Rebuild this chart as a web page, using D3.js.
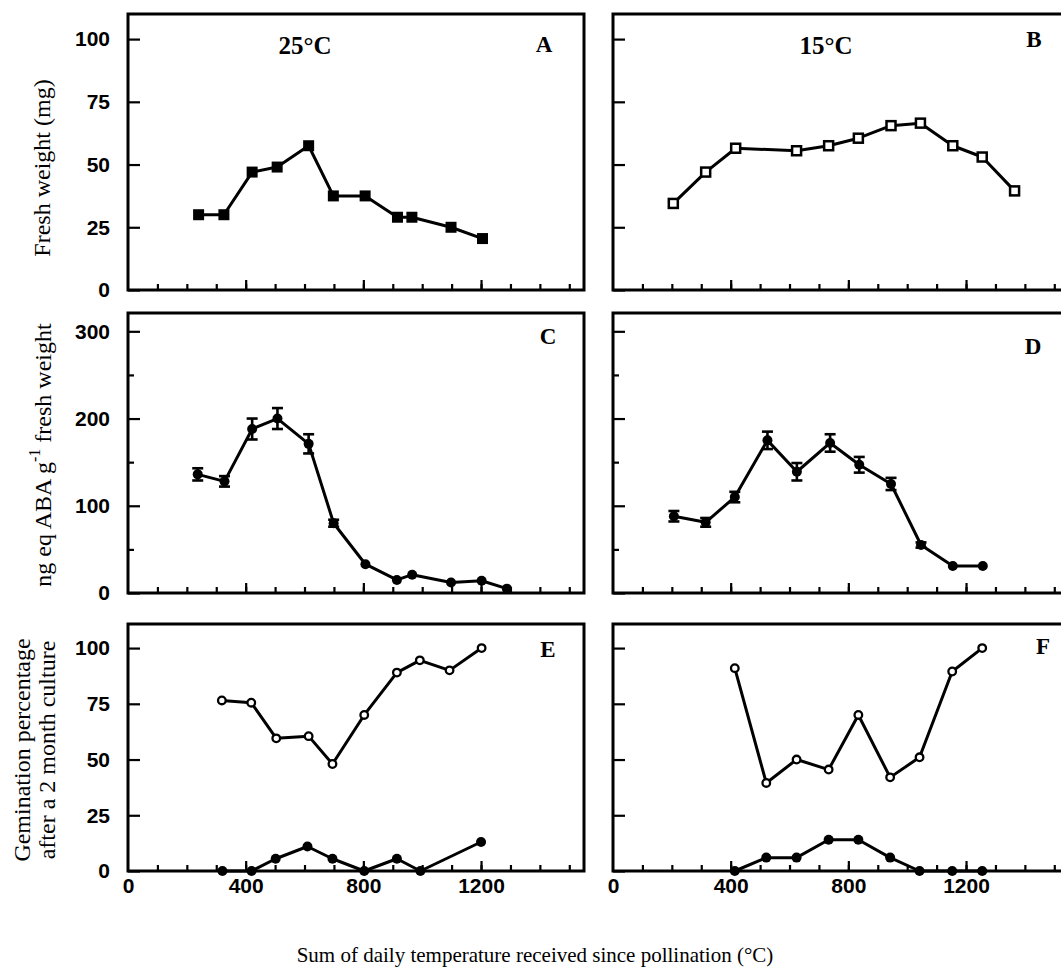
<!DOCTYPE html>
<html><head><meta charset="utf-8">
<script src="https://cdn.jsdelivr.net/npm/d3@7"></script>
<style>
body{margin:0;background:#fff;}
svg{display:block;}
</style></head><body>
<svg id="c" width="1061" height="978"></svg>
<script>
// ---------- data ----------
const xMinorTicks = [100,200,300,400,500,600,700,800,900,1000,1100,1200,1300,1400,1500];
const xMajorTicks = [400,800,1200];
const xTickLabels = [0,400,800,1200];

const fwTicks = [0,25,50,75,100];
const abaTicks = [0,100,200,300];
const abaMinorTicks = [50,150,250];
const germTicks = [0,25,50,75,100];

// A: 25°C fresh weight
const aX = [240, 326, 422, 507, 614, 698, 806, 916, 965, 1098, 1205];
const aY = [30, 30, 47, 49, 57.5, 37.5, 37.5, 29, 29, 25, 20.5];
// B: 15°C fresh weight
const bX = [205, 315, 417, 624, 733, 834, 945, 1045, 1155, 1255, 1365];
const bY = [34.5, 47, 56.5, 55.5, 57.5, 60.5, 65.5, 66.5, 57.5, 53, 39.5];
// C: 25°C ABA
const cX = [237, 328, 422, 508, 614, 699, 807, 914, 966, 1098, 1202, 1288];
const cY = [136, 128, 188, 200, 171, 80, 33, 15, 21, 12, 14, 5];
const cErr = [7, 6, 12, 12, 11, 4, 0, 0, 0, 0, 0, 0];
// D: 15°C ABA
const dX = [207, 315, 414, 525, 625, 738, 837, 945, 1047, 1155, 1257];
const dY = [88, 81, 110, 175, 139, 172, 147, 125, 55, 31, 31];
const dErr = [6, 5, 6, 10, 10, 10, 9, 7, 3, 0, 0];
// E: 25°C germination
const eOpenX = [319, 419, 504, 614, 695, 803, 914, 992, 1093, 1202];
const eOpenY = [76.5, 75.5, 59.5, 60.5, 48, 70, 89, 94.5, 90, 100];
const eFillX = [321, 420, 502, 610, 695, 803, 914, 994, 1200];
const eFillY = [0, 0, 5.5, 11, 5.5, 0, 5.5, 0, 13];
// F: 15°C germination
const fOpenX = [414, 521, 624, 733, 834, 942, 1042, 1153, 1255];
const fOpenY = [91, 39.5, 50, 45.5, 70, 42, 51, 89.5, 100];
const fFillX = [414, 521, 624, 733, 834, 942, 1042, 1153, 1255];
const fFillY = [0, 6, 6, 14, 14, 6, 0, 0, 0];

const zip = (xs, ys, es) => xs.map((x, i) => ({x, y: ys[i], e: es ? es[i] : 0}));

// ---------- layout ----------
const svg = d3.select("#c");
const cols = [{l: 128, r: 584}, {l: 613, r: 1069}];
const rows = [
  {t: 14, b: 290, max: 110},
  {t: 313, b: 593, max: 321},
  {t: 624, b: 871, max: 110.8}
];
const xDomain = [0, 1550];
const TICK_FONT = "'Liberation Sans', Arial, sans-serif";
const SERIF = "'Liberation Serif', 'Times New Roman', serif";

function makePanel(ci, ri, cfg) {
  const c = cols[ci], r = rows[ri];
  const x = d3.scaleLinear().domain(xDomain).range([c.l, c.r]);
  const y = d3.scaleLinear().domain([0, r.max]).range([r.b, r.t]);
  const g = svg.append("g");

  // x ticks (inward)
  const xa = g.append("g").attr("transform", `translate(0,${r.b})`)
    .call(d3.axisBottom(x).tickValues(xMinorTicks).tickSize(-6).tickFormat(""));
  const xb = g.append("g").attr("transform", `translate(0,${r.b})`)
    .call(d3.axisBottom(x).tickValues(xMajorTicks).tickSize(-10).tickFormat(""));
  [xa, xb].forEach(s => { s.select(".domain").remove(); s.selectAll("line").attr("stroke", "#000").attr("stroke-width", 2.2); });

  // y ticks (inward)
  const ya = g.append("g").attr("transform", `translate(${c.l},0)`)
    .call(d3.axisLeft(y).tickValues(cfg.yTicks).tickSize(-12)
      .tickPadding(18).tickFormat(ci === 0 ? d3.format("d") : ""));
  ya.select(".domain").remove();
  ya.selectAll("line").attr("stroke", "#000").attr("stroke-width", 2.2);
  ya.selectAll("text").attr("font-family", TICK_FONT).attr("font-weight", "bold")
    .attr("font-size", 21).attr("fill", "#000");
  if (cfg.yMinor) {
    const ym = g.append("g").attr("transform", `translate(${c.l},0)`)
      .call(d3.axisLeft(y).tickValues(cfg.yMinor).tickSize(-6).tickFormat(""));
    ym.select(".domain").remove();
    ym.selectAll("line").attr("stroke", "#000").attr("stroke-width", 2.2);
  }

  // x tick labels on bottom row
  if (ri === 2) {
    const xl = g.append("g").attr("transform", `translate(0,${r.b})`)
      .call(d3.axisBottom(x).tickValues(xTickLabels).tickSize(0).tickPadding(7).tickFormat(d3.format("d")));
    xl.select(".domain").remove();
    xl.selectAll("text").attr("font-family", TICK_FONT).attr("font-weight", "bold")
      .attr("font-size", 21).attr("fill", "#000");
  }

  // frame
  g.append("rect").attr("x", c.l).attr("y", r.t).attr("width", c.r - c.l).attr("height", r.b - r.t)
    .attr("fill", "none").attr("stroke", "#000").attr("stroke-width", 3);

  const line = d3.line().x(d => x(d.x)).y(d => y(d.y));
  cfg.series.forEach(s => {
    g.append("path").datum(s.data).attr("d", line).attr("fill", "none")
      .attr("stroke", "#000").attr("stroke-width", 3).attr("stroke-linejoin", "round");
  });
  cfg.series.forEach(s => {
    // error bars
    s.data.filter(d => d.e > 0).forEach(d => {
      const eg = g.append("g").attr("stroke", "#000").attr("stroke-width", 2.6);
      eg.append("line").attr("x1", x(d.x)).attr("x2", x(d.x)).attr("y1", y(d.y - d.e)).attr("y2", y(d.y + d.e));
      eg.append("line").attr("x1", x(d.x) - 5.5).attr("x2", x(d.x) + 5.5).attr("y1", y(d.y - d.e)).attr("y2", y(d.y - d.e));
      eg.append("line").attr("x1", x(d.x) - 5.5).attr("x2", x(d.x) + 5.5).attr("y1", y(d.y + d.e)).attr("y2", y(d.y + d.e));
    });
    const m = g.selectAll(null).data(s.data);
    if (s.marker === "fsquare") {
      m.enter().append("rect").attr("x", d => x(d.x) - 5.5).attr("y", d => y(d.y) - 5.5)
        .attr("width", 11).attr("height", 11).attr("fill", "#000");
    } else if (s.marker === "osquare") {
      m.enter().append("rect").attr("x", d => x(d.x) - 4.5).attr("y", d => y(d.y) - 4.5)
        .attr("width", 9).attr("height", 9).attr("fill", "#fff").attr("stroke", "#000").attr("stroke-width", 2.5);
    } else if (s.marker === "fcircle") {
      m.enter().append("circle").attr("cx", d => x(d.x)).attr("cy", d => y(d.y)).attr("r", 5).attr("fill", "#000");
    } else if (s.marker === "ocircle") {
      m.enter().append("circle").attr("cx", d => x(d.x)).attr("cy", d => y(d.y)).attr("r", 3.8)
        .attr("fill", "#fff").attr("stroke", "#000").attr("stroke-width", 2.3);
    }
  });

  // panel letter
  g.append("text").attr("x", cfg.letterX).attr("y", cfg.letterY).text(cfg.letter)
    .attr("font-family", SERIF).attr("font-weight", "bold").attr("font-size", 23)
    .attr("text-anchor", "middle").attr("fill", "#000");
  if (cfg.temp) {
    g.append("text").attr("x", cfg.tempX).attr("y", cfg.tempY).text(cfg.temp)
      .attr("font-family", SERIF).attr("font-weight", "bold").attr("font-size", 25)
      .attr("text-anchor", "middle").attr("fill", "#000");
  }
}

makePanel(0, 0, {yTicks: fwTicks, letter: "A", letterX: 544, letterY: 52, temp: "25°C", tempX: 305, tempY: 54,
  series: [{data: zip(aX, aY), marker: "fsquare"}]});
makePanel(1, 0, {yTicks: fwTicks, letter: "B", letterX: 1034, letterY: 47, temp: "15°C", tempX: 826, tempY: 54,
  series: [{data: zip(bX, bY), marker: "osquare"}]});
makePanel(0, 1, {yTicks: abaTicks, yMinor: abaMinorTicks, letter: "C", letterX: 548, letterY: 344,
  series: [{data: zip(cX, cY, cErr), marker: "fcircle"}]});
makePanel(1, 1, {yTicks: abaTicks, yMinor: abaMinorTicks, letter: "D", letterX: 1033, letterY: 354,
  series: [{data: zip(dX, dY, dErr), marker: "fcircle"}]});
makePanel(0, 2, {yTicks: germTicks, letter: "E", letterX: 548, letterY: 657,
  series: [{data: zip(eOpenX, eOpenY), marker: "ocircle"}, {data: zip(eFillX, eFillY), marker: "fcircle"}]});
makePanel(1, 2, {yTicks: germTicks, letter: "F", letterX: 1043, letterY: 654,
  series: [{data: zip(fOpenX, fOpenY), marker: "ocircle"}, {data: zip(fFillX, fFillY), marker: "fcircle"}]});

// ---------- axis titles ----------
function vtitle(cx, cy, parts) {
  const t = svg.append("text").attr("transform", `translate(${cx},${cy}) rotate(-90)`)
    .attr("text-anchor", "middle").attr("dominant-baseline", "central")
    .attr("font-family", SERIF).attr("font-size", 24).attr("fill", "#000");
  parts.forEach(p => {
    const ts = t.append("tspan").text(p.t);
    if (p.sup) ts.attr("baseline-shift", "super").attr("font-size", 16);
  });
}
vtitle(42, 168, [{t: "Fresh weight (mg)"}]);
vtitle(43, 455, [{t: "ng eq ABA g"}, {t: "-1", sup: true}, {t: " fresh weight"}]);
vtitle(22, 750, [{t: "Gemination percentage"}]);
vtitle(47, 750, [{t: "after a 2 month culture"}]);

svg.append("text").attr("x", 535).attr("y", 962).attr("text-anchor", "middle")
  .attr("font-family", SERIF).attr("font-size", 21).attr("fill", "#000")
  .text("Sum of daily temperature received since pollination (°C)");
</script>
</body></html>
